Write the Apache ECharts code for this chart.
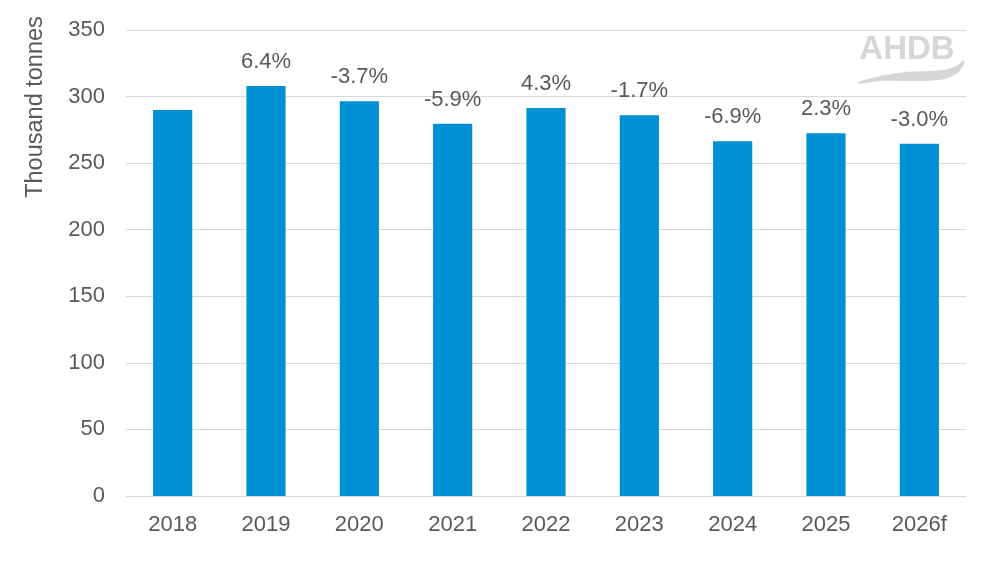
<!DOCTYPE html>
<html>
<head>
<meta charset="utf-8">
<script src="https://cdn.jsdelivr.net/npm/echarts@6/dist/echarts.min.js"></script>
<style>html,body{margin:0;padding:0;background:#fff;}#c{width:1000px;height:565px;}</style>
</head>
<body>
<div id="c"></div>
<script>
var categories = ['2018','2019','2020','2021','2022','2023','2024','2025','2026f'];
var volumes = [290, 308, 296.5, 279.5, 291.5, 286, 266.5, 272.5, 264.5];
var changeLabels = ['', '6.4%', '-3.7%', '-5.9%', '4.3%', '-1.7%', '-6.9%', '2.3%', '-3.0%'];
var yTicks = [0, 50, 100, 150, 200, 250, 300, 350];

var chart = echarts.init(document.getElementById('c'), null, {renderer: 'canvas'});
var font = 'Liberation Sans, Arial, sans-serif';
chart.setOption({
  animation: false,
  grid: {left: 126, right: 34, top: 30, bottom: 69},
  xAxis: {
    type: 'category',
    data: categories,
    axisLine: {lineStyle: {color: '#d9d9d9', width: 1}},
    axisTick: {show: false},
    axisLabel: {color: '#595959', fontSize: 22, fontFamily: font, margin: 18}
  },
  yAxis: {
    type: 'value',
    min: yTicks[0],
    max: yTicks[yTicks.length - 1],
    interval: 50,
    axisLine: {show: false},
    axisTick: {show: false},
    axisLabel: {color: '#595959', fontSize: 22, fontFamily: font, margin: 21},
    splitLine: {lineStyle: {color: '#d9d9d9', width: 1}}
  },
  series: [{
    type: 'bar',
    data: volumes,
    barWidth: '42%',
    itemStyle: {color: '#0090d4'},
    label: {
      show: true,
      position: 'top',
      distance: 13,
      color: '#595959',
      fontSize: 22,
      fontFamily: font,
      formatter: function (p) { return changeLabels[p.dataIndex]; }
    }
  }],
  graphic: [
    {
      type: 'text',
      x: 36, y: 107, rotation: Math.PI / 2,
      style: {text: 'Thousand tonnes', fill: '#595959', font: '23.5px ' + font, textAlign: 'center', textVerticalAlign: 'middle'}
    },
    {
      type: 'text',
      x: 907, y: 50,
      style: {text: 'AHDB', fill: '#d6d6d6', font: 'bold 33px ' + font, textAlign: 'center', textVerticalAlign: 'middle'}
    },
    {
      type: 'polygon',
      shape: {
        points: [[858, 82], [880, 76], [905, 72], [930, 71], [948, 69], [958, 65], [964, 60],
                 [964, 64], [958, 73], [945, 79], [925, 81], [900, 81], [880, 81], [858, 84]],
        smooth: 0.2
      },
      style: {fill: '#d6d6d6'}
    }
  ]
});
</script>
</body>
</html>
